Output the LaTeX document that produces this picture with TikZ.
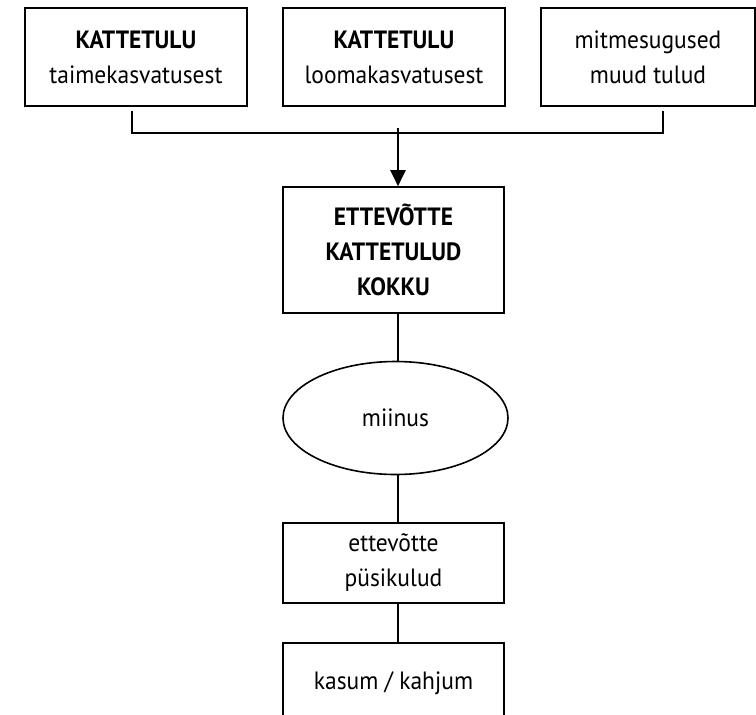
\documentclass[tikz,border=0pt]{standalone}
\usepackage{fontspec}
\setmainfont{PT Sans}[FakeStretch=0.94]
\usetikzlibrary{shapes.geometric, arrows.meta, calc}
\tikzset{
  % --- kastid ----------------------------------------------
  topbox/.style={draw, fill=white, line width=1.6pt,
    minimum width=222pt, minimum height=98pt, align=center,
    font=\fontsize{25}{35}\selectfont, inner sep=0pt},
  sumbox/.style={draw, fill=white, line width=1.6pt,
    minimum width=221pt, minimum height=126pt, align=center,
    font=\fontsize{25}{35}\selectfont\bfseries, inner sep=0pt},
  stepbox/.style={draw, fill=white, line width=1.6pt,
    minimum width=221pt, minimum height=80pt, align=center,
    font=\fontsize{25}{35}\selectfont, inner sep=0pt},
  oval/.style={draw, ellipse, fill=white, line width=1.6pt,
    minimum width=225pt, minimum height=113pt, align=center,
    font=\fontsize{25}{35}\selectfont, inner sep=0pt},
  % --- jooned ----------------------------------------------
  ln/.style={line width=1.6pt},
  fl/.style={line width=2.2pt, -{Triangle[width=15pt, length=16pt]}}
}
\begin{document}
\begin{tikzpicture}[x=1pt, y=-1pt]
  \useasboundingbox (0,0) rectangle (756,715);

  \node[topbox] (T1) at (136,57)   {\textbf{KATTETULU}\\taimekasvatusest};
  \node[topbox] (T2) at (394,57)   {\textbf{KATTETULU}\\loomakasvatusest};
  \node[topbox, minimum width=214pt] (T3) at (648,57)
    {mitmesugused\\muud tulud};

  \node[sumbox]  (K) at (393.5,250) {ETTEVÕTTE\\KATTETULUD\\KOKKU};
  \node[oval]    (M) at (395.5,418) {miinus};
  \node[stepbox] (P) at (393.5,563) {ettevõtte\\püsikulud};
  \node[stepbox] (R) at (393.5,683) {kasum / kahjum};

  % --- kolm tuluallikat kokku ---
  \coordinate (J) at (398,133);
  \draw[ln] ([xshift=-4pt, yshift=-4pt]T1.south) |- (J)
            -| ([xshift=15pt, yshift=-4pt]T3.south);
  \draw[fl] ([yshift=5pt]J) -- (J |- K.north);

  % --- edasi allapoole ---
  \draw[ln] (J |- K.south) -- (J |- M.north);
  \draw[ln] (J |- M.south) -- (J |- P.north);
  \draw[ln] (J |- P.south) -- (J |- R.north);

\end{tikzpicture}
\end{document}
